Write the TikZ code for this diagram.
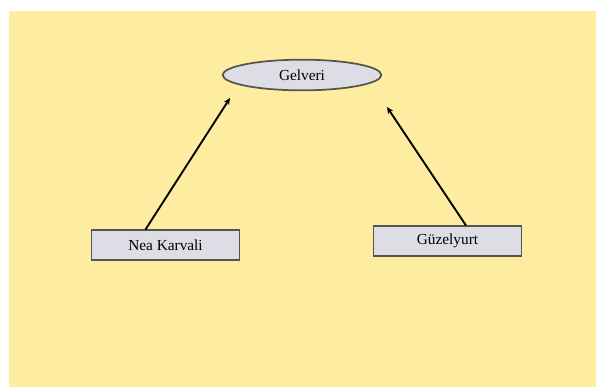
\documentclass[tikz,border=0pt]{standalone}
\usepackage{fontspec}
\setmainfont{Liberation Serif}
\usepackage{tikz}
\usetikzlibrary{calc,arrows.meta,shapes.geometric}
\definecolor{paper}{HTML}{FEEDA0}
\definecolor{nodefill}{HTML}{DDDDE6}
\definecolor{nodeline}{HTML}{55554A}
\tikzset{
    village/.style={ellipse,draw=nodeline,fill=nodefill,line width=1.3pt,minimum width=119pt,minimum height=23pt,inner sep=0pt,font=\fontsize{11.5}{13}\selectfont},
    town/.style={rectangle,draw=nodeline,fill=nodefill,line width=1.3pt,minimum width=111pt,minimum height=22pt,inner sep=0pt,font=\fontsize{11.5}{13}\selectfont},
    link/.style={-{Stealth[length=5pt,width=4.5pt]},black,line width=1.4pt}
}
\begin{document}
\begin{tikzpicture}[x=0.75pt,y=-0.75pt]
\useasboundingbox (0,0) rectangle (596,387);
\fill[white] (0,0) rectangle (596,387);
\fill[paper] (9,11) rectangle (596,387);
\node[village] (gelveri) at (302,75) {Gelveri};
\node[town] (karvali) at (165.5,245) {Nea Karvali};
\node[town] (guzelyurt) at (447.5,241) {Güzelyurt};
\coordinate (gelveri-left) at ($(gelveri.center)+(-72,23)$);
\coordinate (gelveri-right) at ($(gelveri.center)+(85,32)$);
\draw[link] ($(karvali.north)+(-20,0)$)--(gelveri-left);
\draw[link] ($(guzelyurt.north)+(18.5,0)$)--(gelveri-right);
\end{tikzpicture}
\end{document}
